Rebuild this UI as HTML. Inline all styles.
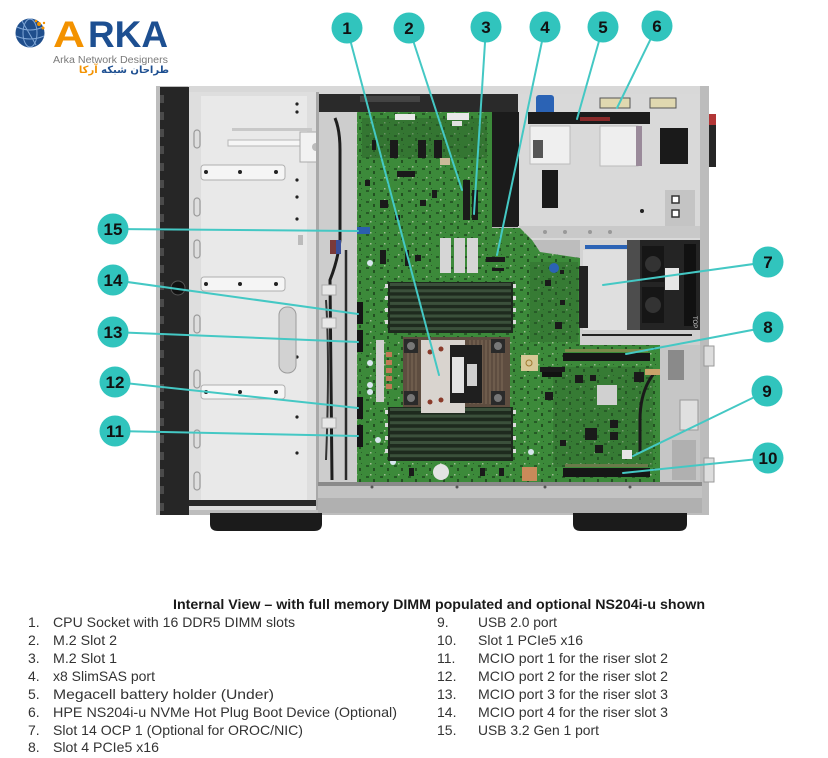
<!DOCTYPE html>
<html><head><meta charset="utf-8">
<style>
html,body{margin:0;padding:0;background:#fff;width:828px;height:758px;overflow:hidden;position:relative}
svg{display:block;position:absolute;left:0;top:0}
.fa{position:absolute;left:53px;top:64px;width:116px;height:14px;direction:rtl;text-align:right;font-family:"DejaVu Sans",sans-serif;font-size:10px;line-height:14px;white-space:nowrap;font-weight:bold}
</style></head><body>
<svg width="828" height="758" viewBox="0 0 828 758" xmlns="http://www.w3.org/2000/svg">
<defs>
<pattern id="pcb" width="14" height="11" patternUnits="userSpaceOnUse">
<rect x="2" y="3" width="3" height="2" fill="#1d451d"/>
<rect x="9" y="6" width="2" height="3" fill="#183818"/>
<rect x="6" y="1" width="1.5" height="1.5" fill="#c9d4bb"/>
<rect x="11" y="1" width="1" height="1" fill="#204a20"/>
</pattern>
</defs>
<rect width="828" height="758" fill="#fff"/>

<!-- LOGO -->
<circle cx="30" cy="33" r="14.5" fill="#1f4e8c"/>
<ellipse cx="30" cy="33" rx="7" ry="14" fill="none" stroke="#7fa6d6" stroke-width="1"/>
<path d="M17 27 Q30 33 43 27 M16 36 Q30 42 44 36 M22 21 L36 45" stroke="#7fa6d6" stroke-width="1" fill="none"/>
<circle cx="39" cy="24" r="2" fill="#f39200"/><circle cx="43" cy="28" r="1.5" fill="#f39200"/><circle cx="36" cy="21" r="1.3" fill="#f39200"/><circle cx="44" cy="23" r="1.2" fill="#f39200"/>
<text x="53" y="47" font-family="Liberation Sans, sans-serif" font-weight="bold" font-size="37" fill="#f39200" textLength="32" lengthAdjust="spacingAndGlyphs">A</text>
<text x="88" y="47" font-family="Liberation Sans, sans-serif" font-weight="bold" font-size="37" fill="#1d4f91" textLength="80" lengthAdjust="spacingAndGlyphs">RKA</text>
<text x="53" y="63" font-family="Liberation Sans, sans-serif" font-size="10" fill="#7a7a7a" textLength="115" lengthAdjust="spacingAndGlyphs">Arka Network Designers</text>

<!-- CHASSIS -->
<rect x="156" y="86" width="553" height="429" fill="#bdbdbd"/>
<rect x="188" y="86" width="520" height="8" fill="#d8d8d8"/>
<!-- bezel -->
<rect x="160" y="87" width="29" height="428" fill="#262626"/>
<g fill="#4a4a4a">
<rect x="160" y="95" width="4" height="8"/><rect x="160" y="112" width="4" height="8"/><rect x="160" y="129" width="4" height="8"/><rect x="160" y="146" width="4" height="8"/><rect x="160" y="163" width="4" height="8"/><rect x="160" y="180" width="4" height="8"/><rect x="160" y="197" width="4" height="8"/><rect x="160" y="214" width="4" height="8"/><rect x="160" y="231" width="4" height="8"/><rect x="160" y="248" width="4" height="8"/><rect x="160" y="265" width="4" height="8"/><rect x="160" y="282" width="4" height="8"/><rect x="160" y="299" width="4" height="8"/><rect x="160" y="316" width="4" height="8"/><rect x="160" y="333" width="4" height="8"/><rect x="160" y="350" width="4" height="8"/><rect x="160" y="367" width="4" height="8"/><rect x="160" y="384" width="4" height="8"/><rect x="160" y="401" width="4" height="8"/><rect x="160" y="418" width="4" height="8"/><rect x="160" y="435" width="4" height="8"/><rect x="160" y="452" width="4" height="8"/><rect x="160" y="469" width="4" height="8"/><rect x="160" y="486" width="4" height="8"/><rect x="160" y="503" width="4" height="8"/>
</g>
<circle cx="178" cy="288" r="7" fill="#111" stroke="#555" stroke-width="1"/>

<!-- left drive cage -->
<rect x="189" y="92" width="129" height="418" fill="#dedede"/>
<rect x="201" y="96" width="106" height="404" fill="#e9e9e9"/>
<g fill="none" stroke="#9a9a9a" stroke-width="1.2">
<rect x="194" y="130" width="6" height="18" rx="3"/><rect x="194" y="198" width="6" height="18" rx="3"/><rect x="194" y="240" width="6" height="18" rx="3"/><rect x="194" y="315" width="6" height="18" rx="3"/><rect x="194" y="370" width="6" height="18" rx="3"/><rect x="194" y="430" width="6" height="18" rx="3"/><rect x="194" y="472" width="6" height="18" rx="3"/>
</g>
<g fill="#f5f5f5" stroke="#b0b0b0" stroke-width="1">
<rect x="201" y="165" width="84" height="15" rx="3"/><rect x="201" y="277" width="84" height="14" rx="3"/><rect x="201" y="385" width="84" height="14" rx="3"/>
</g>
<g fill="#222">
<circle cx="206" cy="172" r="2"/><circle cx="240" cy="172" r="2"/><circle cx="276" cy="172" r="2"/>
<circle cx="206" cy="284" r="2"/><circle cx="240" cy="284" r="2"/><circle cx="276" cy="284" r="2"/>
<circle cx="206" cy="392" r="2"/><circle cx="240" cy="392" r="2"/><circle cx="276" cy="392" r="2"/>
<circle cx="297" cy="104" r="1.6"/><circle cx="297" cy="112" r="1.6"/><circle cx="297" cy="180" r="1.6"/><circle cx="297" cy="197" r="1.6"/><circle cx="297" cy="219" r="1.6"/><circle cx="297" cy="357" r="1.6"/><circle cx="297" cy="417" r="1.6"/><circle cx="297" cy="453" r="1.6"/>
</g>
<rect x="279" y="307" width="17" height="66" rx="8" fill="#d2d2d2" stroke="#9c9c9c"/>
<rect x="232" y="128" width="80" height="3" fill="#c8c8c8"/>
<rect x="228" y="140" width="90" height="6" fill="#f6f6f6" stroke="#b6b6b6"/>
<rect x="300" y="132" width="32" height="30" fill="#f2f2f2" stroke="#aaa"/>
<circle cx="316" cy="147" r="4" fill="#bbb"/>
<rect x="298" y="235" width="5" height="10" fill="#bbb"/>
<rect x="189" y="500" width="129" height="6" fill="#2a2a2a"/>
<rect x="316" y="92" width="3" height="418" fill="#a8a8a8"/>

<!-- cable channel -->
<rect x="319" y="94" width="38" height="388" fill="#cdcdcd"/>
<rect x="319" y="94" width="201" height="18" fill="#2a2a2a"/>
<rect x="360" y="96" width="60" height="6" fill="#444"/>
<path d="M335 118 Q340 130 340 150 L340 240 Q338 260 330 280 L332 480" stroke="#1e1e1e" stroke-width="3" fill="none"/>
<path d="M346 250 L346 480" stroke="#2a2a2a" stroke-width="2.5" fill="none"/>
<path d="M326 300 Q330 360 326 460" stroke="#333" stroke-width="2" fill="none"/>
<rect x="330" y="240" width="6" height="14" fill="#7a3a3a"/><rect x="336" y="240" width="5" height="14" fill="#3a4f9a"/>
<rect x="322" y="285" width="14" height="10" fill="#e8e8e8" stroke="#aaa"/>
<rect x="322" y="318" width="14" height="10" fill="#e8e8e8" stroke="#aaa"/>
<rect x="322" y="418" width="14" height="10" fill="#e8e8e8" stroke="#aaa"/>

<!-- PSU / right top area -->
<rect x="518" y="94" width="183" height="146" fill="#d9d9d9"/>
<rect x="492" y="112" width="27" height="115" fill="#1b1b1b"/>
<rect x="536" y="95" width="18" height="24" rx="3" fill="#2b63b5"/>
<rect x="528" y="112" width="122" height="12" fill="#1c1c1c"/>
<rect x="580" y="117" width="30" height="4" fill="#8a2a2a"/>
<rect x="600" y="98" width="30" height="10" fill="#e0d8b0" stroke="#555"/>
<rect x="650" y="98" width="26" height="10" fill="#e0d8b0" stroke="#555"/>
<rect x="530" y="126" width="40" height="38" fill="#efefef" stroke="#bbb"/>
<rect x="533" y="140" width="10" height="18" fill="#555"/>
<rect x="600" y="126" width="38" height="40" fill="#eeeeee" stroke="#bbb"/>
<rect x="636" y="126" width="6" height="40" fill="#9a8a9a"/>
<rect x="660" y="128" width="28" height="36" fill="#1a1a1a"/>
<rect x="542" y="170" width="16" height="38" fill="#1a1a1a"/>
<rect x="665" y="190" width="30" height="36" fill="#c4c4c4"/>
<rect x="672" y="196" width="7" height="7" fill="#fff" stroke="#333" stroke-width="1.5"/>
<rect x="672" y="210" width="7" height="7" fill="#fff" stroke="#333" stroke-width="1.5"/>
<circle cx="642" cy="211" r="2" fill="#222"/>
<rect x="518" y="226" width="183" height="12" fill="#c9c9c9"/>
<g fill="#999"><circle cx="545" cy="232" r="2"/><circle cx="565" cy="232" r="2"/><circle cx="590" cy="232" r="2"/><circle cx="610" cy="232" r="2"/></g>
<rect x="707" y="114" width="9" height="11" fill="#b23636"/>
<rect x="707" y="125" width="9" height="42" fill="#262626"/>

<!-- BOARD -->
<path d="M357 112 L492 112 L492 228 L520 228 L532 240 L540 252 L580 258 L580 345 L660 345 L660 482 L357 482 Z" fill="#3c8a3a"/>
<path d="M357 112 L492 112 L492 228 L520 228 L532 240 L540 252 L580 258 L580 345 L660 345 L660 482 L357 482 Z" fill="url(#pcb)" opacity="0.7"/>
<!-- OCP & fans -->
<rect x="580" y="240" width="120" height="105" fill="#d3d3d3"/>
<rect x="583" y="250" width="44" height="80" fill="#dfdfdf"/>
<rect x="585" y="245" width="42" height="4" fill="#2b63b5"/>
<rect x="579" y="266" width="9" height="62" fill="#222"/>
<rect x="627" y="240" width="73" height="90" fill="#242424"/>
<rect x="627" y="240" width="13" height="90" fill="#4d4d4d"/>
<rect x="642" y="246" width="22" height="36" fill="#161616"/><rect x="642" y="287" width="22" height="36" fill="#161616"/>
<circle cx="653" cy="264" r="8" fill="#333"/><circle cx="653" cy="305" r="8" fill="#333"/>
<rect x="665" y="268" width="14" height="22" fill="#e6e6e6"/>
<rect x="684" y="244" width="12" height="82" fill="#111"/>
<text transform="translate(693,316) rotate(90)" font-family="Liberation Sans, sans-serif" font-size="6" fill="#ccc">TOP</text>
<rect x="580" y="330" width="120" height="15" fill="#cfcfcf"/>
<rect x="582" y="334" width="110" height="2" fill="#222"/>
<!-- right chassis lower -->
<rect x="660" y="345" width="42" height="137" fill="#c6c6c6"/>
<rect x="680" y="400" width="18" height="30" fill="#e0e0e0" stroke="#999"/>
<rect x="668" y="350" width="16" height="30" fill="#8a8a8a"/>
<rect x="672" y="440" width="24" height="40" fill="#b0b0b0"/>
<rect x="700" y="86" width="9" height="428" fill="#bcbcbc"/>
<rect x="704" y="346" width="10" height="20" fill="#ddd" stroke="#999"/>
<rect x="704" y="458" width="10" height="24" fill="#ddd" stroke="#999"/>

<!-- board details -->
<g fill="#2a5e2a">
<rect x="362" y="118" width="125" height="40" opacity="0.45"/>
<rect x="530" y="262" width="48" height="80" opacity="0.35"/>
<rect x="553" y="367" width="100" height="100" opacity="0.35"/>
</g>
<rect x="395" y="114" width="20" height="6" fill="#e8e8e8"/>
<rect x="447" y="113" width="22" height="7" fill="#e8e8e8"/>
<rect x="452" y="121" width="10" height="5" fill="#e0e0e0"/>
<g fill="#1a1a1a">
<rect x="390" y="140" width="8" height="18"/><rect x="418" y="140" width="8" height="18"/><rect x="434" y="140" width="8" height="18"/>
<rect x="397" y="171" width="18" height="6"/><rect x="463" y="180" width="7" height="40"/><rect x="472" y="190" width="6" height="30"/>
<rect x="372" y="140" width="4" height="10"/><rect x="420" y="200" width="6" height="6"/><rect x="432" y="190" width="5" height="8"/>
<rect x="380" y="250" width="6" height="14"/><rect x="405" y="250" width="4" height="16"/><rect x="415" y="255" width="6" height="6"/>
<rect x="486" y="257" width="19" height="5"/><rect x="492" y="268" width="12" height="3"/>
<rect x="555" y="322" width="7" height="7"/><rect x="560" y="300" width="5" height="5"/>
<rect x="575" y="375" width="8" height="8"/><rect x="590" y="375" width="6" height="6"/><rect x="545" y="392" width="8" height="8"/>
<rect x="585" y="428" width="12" height="12"/><rect x="610" y="420" width="8" height="8"/><rect x="610" y="432" width="8" height="8"/>
<rect x="540" y="367" width="25" height="5"/>
<rect x="634" y="372" width="10" height="10"/>
<rect x="380" y="200" width="8" height="8"/><rect x="395" y="215" width="5" height="5"/><rect x="365" y="180" width="5" height="6"/>
<rect x="545" y="280" width="6" height="6"/><rect x="560" y="270" width="4" height="4"/>
<rect x="595" y="445" width="8" height="8"/><rect x="560" y="440" width="6" height="6"/>
</g>
<rect x="440" y="158" width="10" height="7" fill="#cdbb99"/>
<!-- small heatsink -->
<rect x="440" y="238" width="11" height="35" fill="#d6d6d6"/><rect x="454" y="238" width="11" height="35" fill="#d0d0d0"/><rect x="467" y="238" width="11" height="35" fill="#d6d6d6"/>
<circle cx="554" cy="268" r="5" fill="#2b63b5"/>
<!-- USB 3.2 -->
<rect x="357" y="227" width="13" height="7" fill="#2b5fae"/>
<!-- MCIO -->
<g fill="#151515">
<rect x="357" y="302" width="6" height="22"/><rect x="357" y="330" width="6" height="22"/><rect x="357" y="397" width="6" height="22"/><rect x="357" y="425" width="6" height="22"/>
</g>
<rect x="376" y="340" width="8" height="62" fill="#cfcfcf"/>
<g fill="#c07a55"><rect x="386" y="352" width="6" height="5"/><rect x="386" y="360" width="6" height="5"/><rect x="386" y="368" width="6" height="5"/><rect x="386" y="376" width="6" height="5"/><rect x="386" y="384" width="6" height="5"/></g>
<g fill="#d8e6ee"><circle cx="370" cy="263" r="3"/><circle cx="370" cy="363" r="3"/><circle cx="370" cy="385" r="3"/><circle cx="370" cy="392" r="3"/><circle cx="378" cy="440" r="3"/><circle cx="393" cy="462" r="3"/><circle cx="531" cy="452" r="3"/></g>

<!-- DIMMs top -->
<rect x="388" y="282" width="125" height="51" fill="#1e2a1e"/>
<g fill="#3b503b">
<rect x="390" y="283" width="121" height="3"/><rect x="390" y="289.3" width="121" height="3"/><rect x="390" y="295.6" width="121" height="3"/><rect x="390" y="301.9" width="121" height="3"/><rect x="390" y="308.2" width="121" height="3"/><rect x="390" y="314.5" width="121" height="3"/><rect x="390" y="320.8" width="121" height="3"/><rect x="390" y="327.1" width="121" height="3"/>
</g>
<g fill="#dcdcdc"><rect x="385" y="284" width="3" height="4"/><rect x="385" y="296" width="3" height="4"/><rect x="385" y="308" width="3" height="4"/><rect x="385" y="320" width="3" height="4"/><rect x="513" y="284" width="3" height="4"/><rect x="513" y="296" width="3" height="4"/><rect x="513" y="308" width="3" height="4"/><rect x="513" y="320" width="3" height="4"/></g>
<!-- DIMMs bottom -->
<rect x="388" y="407" width="125" height="54" fill="#1e2a1e"/>
<g fill="#3b503b">
<rect x="390" y="408" width="121" height="3"/><rect x="390" y="414.6" width="121" height="3"/><rect x="390" y="421.2" width="121" height="3"/><rect x="390" y="427.8" width="121" height="3"/><rect x="390" y="434.4" width="121" height="3"/><rect x="390" y="441" width="121" height="3"/><rect x="390" y="447.6" width="121" height="3"/><rect x="390" y="454.2" width="121" height="3"/>
</g>
<g fill="#dcdcdc"><rect x="385" y="410" width="3" height="4"/><rect x="385" y="423" width="3" height="4"/><rect x="385" y="436" width="3" height="4"/><rect x="385" y="449" width="3" height="4"/><rect x="513" y="410" width="3" height="4"/><rect x="513" y="423" width="3" height="4"/><rect x="513" y="436" width="3" height="4"/><rect x="513" y="449" width="3" height="4"/></g>
<!-- CPU -->
<rect x="403" y="337" width="107" height="70" fill="#5e4d40"/>
<g stroke="#7d6a58" stroke-width="1"><path d="M408 340 V404 M412 340 V404 M416 340 V404 M470 340 V404 M474 340 V404 M478 340 V404 M482 340 V404 M486 340 V404 M490 340 V404 M494 340 V404 M498 340 V404 M502 340 V404"/></g>
<g fill="#2a2a2a"><rect x="404" y="339" width="14" height="14"/><rect x="491" y="339" width="14" height="14"/><rect x="404" y="391" width="14" height="14"/><rect x="491" y="391" width="14" height="14"/></g>
<g fill="#777"><circle cx="411" cy="346" r="4"/><circle cx="498" cy="346" r="4"/><circle cx="411" cy="398" r="4"/><circle cx="498" cy="398" r="4"/></g>
<rect x="421" y="340" width="44" height="73" fill="#d9d4cf"/>
<rect x="450" y="345" width="32" height="58" fill="#1f1f1f"/>
<rect x="452" y="357" width="12" height="36" fill="#e2e2e2"/>
<rect x="467" y="364" width="10" height="22" fill="#cfcfcf"/>
<g fill="#8a3a2a"><circle cx="430" cy="352" r="2.5"/><circle cx="441" cy="349" r="2.5"/><circle cx="430" cy="402" r="2.5"/><circle cx="441" cy="400" r="2.5"/></g>

<!-- slots -->
<rect x="563" y="353" width="87" height="8" fill="#161616"/>
<rect x="565" y="349" width="83" height="3" fill="#7a8a4a"/>
<rect x="563" y="468" width="87" height="9" fill="#161616"/>
<rect x="565" y="464" width="83" height="3" fill="#6a7a4a"/>
<rect x="521" y="355" width="17" height="16" fill="#d8c896"/><circle cx="529" cy="363" r="3" fill="none" stroke="#a07a30"/>
<rect x="522" y="467" width="15" height="14" fill="#c98a5a"/>
<rect x="542" y="372" width="20" height="5" fill="#111"/>
<rect x="597" y="385" width="20" height="20" fill="#d0d0d0"/>
<path d="M655 372 Q640 390 640 420 L640 452" stroke="#1a1a1a" stroke-width="3" fill="none"/>
<path d="M645 372 L660 372" stroke="#c9a36a" stroke-width="6"/>
<rect x="622" y="450" width="10" height="9" fill="#e6e6e6"/>
<circle cx="441" cy="472" r="8" fill="#e3e3e3"/>
<g fill="#1a1a1a"><rect x="409" y="468" width="5" height="8"/><rect x="480" y="468" width="5" height="8"/><rect x="499" y="468" width="5" height="8"/></g>

<!-- bottom chassis -->
<rect x="318" y="482" width="384" height="31" fill="#c3c3c3"/>
<rect x="318" y="482" width="384" height="4" fill="#8a8a8a"/>
<rect x="318" y="498" width="384" height="15" fill="#b0b0b0"/>
<g fill="#555"><circle cx="372" cy="487" r="1.5"/><circle cx="457" cy="487" r="1.5"/><circle cx="545" cy="487" r="1.5"/><circle cx="630" cy="487" r="1.5"/></g>
<!-- feet -->
<path d="M210 513 H322 V524 Q322 531 314 531 H218 Q210 531 210 524 Z" fill="#1b1b1b"/>
<path d="M573 513 H687 V524 Q687 531 679 531 H581 Q573 531 573 524 Z" fill="#1b1b1b"/>

<!-- CALLOUT LINES -->
<g stroke="#44c8c4" stroke-width="2" fill="none" stroke-linecap="round">
<line x1="347" y1="28" x2="439" y2="375"/>
<line x1="409" y1="28" x2="462" y2="190"/>
<line x1="486" y1="27" x2="474" y2="214"/>
<line x1="545" y1="27" x2="497" y2="255"/>
<line x1="603" y1="27" x2="577" y2="119"/>
<line x1="657" y1="26" x2="617" y2="108"/>
<line x1="768" y1="262" x2="603" y2="285"/>
<line x1="768" y1="327" x2="626" y2="354"/>
<line x1="767" y1="391" x2="633" y2="456"/>
<line x1="768" y1="458" x2="623" y2="473"/>
<line x1="115" y1="431" x2="358" y2="436"/>
<line x1="115" y1="382" x2="358" y2="408"/>
<line x1="113" y1="332" x2="358" y2="342"/>
<line x1="113" y1="280" x2="358" y2="314"/>
<line x1="113" y1="229" x2="358" y2="231"/>
</g>
<g fill="#31c4bd">
<circle cx="347" cy="28" r="15.5"/><circle cx="409" cy="28" r="15.5"/><circle cx="486" cy="27" r="15.5"/><circle cx="545" cy="27" r="15.5"/><circle cx="603" cy="27" r="15.5"/><circle cx="657" cy="26" r="15.5"/>
<circle cx="768" cy="262" r="15.5"/><circle cx="768" cy="327" r="15.5"/><circle cx="767" cy="391" r="15.5"/><circle cx="768" cy="458" r="15.5"/>
<circle cx="115" cy="431" r="15.5"/><circle cx="115" cy="382" r="15.5"/><circle cx="113" cy="332" r="15.5"/><circle cx="113" cy="280" r="15.5"/><circle cx="113" cy="229" r="15.5"/>
</g>
<g font-family="Liberation Sans Narrow, Liberation Sans, sans-serif" font-weight="bold" font-size="17" fill="#111" text-anchor="middle">
<text x="347" y="34">1</text><text x="409" y="34">2</text><text x="486" y="33">3</text><text x="545" y="33">4</text><text x="603" y="33">5</text><text x="657" y="32">6</text>
<text x="768" y="268">7</text><text x="768" y="333">8</text><text x="767" y="397">9</text><text x="768" y="464">10</text>
<text x="115" y="437">11</text><text x="115" y="388">12</text><text x="113" y="338">13</text><text x="113" y="286">14</text><text x="113" y="235">15</text>
</g>

<!-- CAPTION -->
<text x="173" y="609" font-family="Liberation Sans, sans-serif" font-weight="bold" font-size="14" fill="#1a1a1a" textLength="532" lengthAdjust="spacingAndGlyphs">Internal View – with full memory DIMM populated and optional NS204i-u shown</text>
<g font-family="Liberation Sans, sans-serif" font-size="14" fill="#333">
<text x="28" y="627">1.</text><text x="53" y="627" textLength="242" lengthAdjust="spacingAndGlyphs">CPU Socket with 16 DDR5 DIMM slots</text>
<text x="28" y="645">2.</text><text x="53" y="645" textLength="64" lengthAdjust="spacingAndGlyphs">M.2 Slot 2</text>
<text x="28" y="663">3.</text><text x="53" y="663" textLength="64" lengthAdjust="spacingAndGlyphs">M.2 Slot 1</text>
<text x="28" y="681">4.</text><text x="53" y="681" textLength="102" lengthAdjust="spacingAndGlyphs">x8 SlimSAS port</text>
<text x="28" y="699">5.</text><text x="53" y="699" textLength="221" lengthAdjust="spacingAndGlyphs">Megacell battery holder (Under)</text>
<text x="28" y="717">6.</text><text x="53" y="717" textLength="344" lengthAdjust="spacingAndGlyphs">HPE NS204i-u NVMe Hot Plug Boot Device (Optional)</text>
<text x="28" y="735">7.</text><text x="53" y="735" textLength="250" lengthAdjust="spacingAndGlyphs">Slot 14 OCP 1 (Optional for OROC/NIC)</text>
<text x="28" y="752">8.</text><text x="53" y="752" textLength="106" lengthAdjust="spacingAndGlyphs">Slot 4 PCIe5 x16</text>
<text x="437" y="627">9.</text><text x="478" y="627" textLength="79" lengthAdjust="spacingAndGlyphs">USB 2.0 port</text>
<text x="437" y="645">10.</text><text x="478" y="645" textLength="105" lengthAdjust="spacingAndGlyphs">Slot 1 PCIe5 x16</text>
<text x="437" y="663">11.</text><text x="478" y="663" textLength="190" lengthAdjust="spacingAndGlyphs">MCIO port 1 for the riser slot 2</text>
<text x="437" y="681">12.</text><text x="478" y="681" textLength="190" lengthAdjust="spacingAndGlyphs">MCIO port 2 for the riser slot 2</text>
<text x="437" y="699">13.</text><text x="478" y="699" textLength="190" lengthAdjust="spacingAndGlyphs">MCIO port 3 for the riser slot 3</text>
<text x="437" y="717">14.</text><text x="478" y="717" textLength="190" lengthAdjust="spacingAndGlyphs">MCIO port 4 for the riser slot 3</text>
<text x="437" y="735">15.</text><text x="478" y="735" textLength="121" lengthAdjust="spacingAndGlyphs">USB 3.2 Gen 1 port</text>
</g>
</svg>
<div class="fa"><span style="color:#1d4f91">طراحان شبکه</span> <span style="color:#f39200">آرکا</span></div>
</body></html>
